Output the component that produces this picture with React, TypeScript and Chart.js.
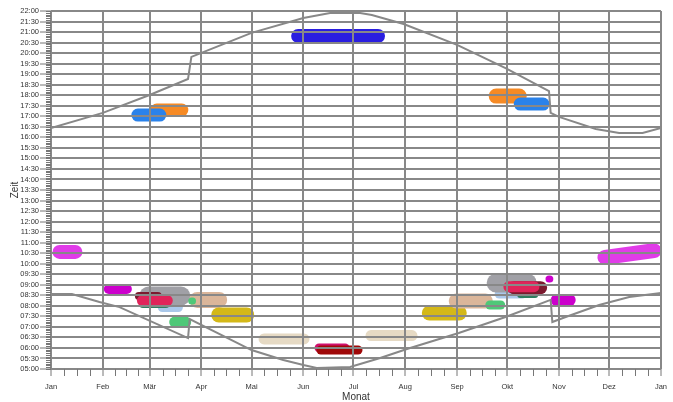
import React, { useEffect, useRef } from 'react';
import { Chart, registerables } from 'chart.js';

Chart.register(...registerables);

// ---- axis categories / tick labels ----
const monthLabels = ['Jan', 'Feb', 'Mär', 'Apr', 'Mai', 'Jun', 'Jul', 'Aug', 'Sep', 'Okt', 'Nov', 'Dez', 'Jan'];
const monthStartDays = [0, 31, 59, 90, 120, 151, 181, 212, 243, 273, 304, 334, 365];
const timeTickLabels = [
  '05:00', '05:30', '06:00', '06:30', '07:00', '07:30', '08:00', '08:30', '09:00', '09:30',
  '10:00', '10:30', '11:00', '11:30', '12:00', '12:30', '13:00', '13:30', '14:00', '14:30',
  '15:00', '15:30', '16:00', '16:30', '17:00', '17:30', '18:00', '18:30', '19:00', '19:30',
  '20:00', '20:30', '21:00', '21:30', '22:00',
];

// ---- sunset / sunrise (day of year, hour of day) ----
const sunsetDays = [0, 31, 59, 82, 84, 90, 120, 151, 167, 185, 192, 211, 243, 272, 298, 299, 304, 326, 340, 354, 365];
const sunsetHours = [16.44, 17.16, 18.01, 18.77, 19.82, 20.01, 20.96, 21.67, 21.9, 21.9, 21.81, 21.38, 20.39, 19.29, 18.2, 17.16, 16.97, 16.4, 16.21, 16.21, 16.44];
const sunriseDays = [0, 12.5, 29, 41, 82, 83, 120, 139, 151, 159, 179, 197, 213, 244, 272, 299, 300, 308, 328, 346, 365];
const sunriseHours = [8.56, 8.56, 8.18, 7.94, 6.47, 7.37, 5.9, 5.43, 5.19, 5.05, 5.1, 5.52, 5.95, 6.71, 7.47, 8.28, 7.23, 7.47, 8.04, 8.42, 8.61];

// ---- observation clusters (start day, end day, start hour, end hour) ----
const blobStartDay = [5.1, 34.6, 66.6, 55, 58.5, 52.6, 54.7, 87.5, 84.2, 74, 100.4, 127.5, 160.4, 161.5, 191.5, 226.4, 242.5, 262.6, 268.2, 266.4, 280.8, 277, 274, 298, 302.6, 331.5, 63.3, 52, 147.9, 266.4, 280.8];
const blobEndDay = [14.6, 45.4, 76.2, 68.7, 77.7, 63.9, 69.6, 100.6, 84.7, 80.6, 117.1, 151.4, 176, 183.7, 216, 244.3, 259.9, 269.1, 282, 285, 289.7, 293, 289, 298.5, 310.4, 360.8, 78.3, 65.1, 195.7, 280.2, 294.5];
const blobStartHour = [10.56, 8.8, 7.92, 8.09, 8.47, 8.47, 8.25, 8.28, 8.23, 7.23, 7.57, 6.43, 6.0, 5.9, 6.59, 7.66, 8.23, 8.04, 8.56, 9.08, 8.51, 8.86, 8.91, 9.27, 8.28, 10.3, 17.3, 17.06, 20.81, 17.96, 17.58];
const blobEndHour = [10.56, 8.8, 7.92, 8.09, 8.47, 8.47, 8.25, 8.28, 8.23, 7.23, 7.57, 6.43, 6.0, 5.9, 6.59, 7.66, 8.23, 8.04, 8.56, 9.08, 8.51, 8.86, 8.91, 9.27, 8.28, 10.62, 17.3, 17.06, 20.81, 17.96, 17.58];

// styles for the clusters
const blobColors = ['#e03ce8', '#cc00cc', '#aac8ea', '#2e7d5e', '#a0a0a6', '#7b1a2e', '#e0245a', '#dbb69a', '#4fc878', '#4fc878', '#d4b818', '#e6dac4', '#d0106e', '#a00808', '#e6dac4', '#d4b818', '#dbb69a', '#4fc878', '#aac8ea', '#a0a0a6', '#2e7d5e', '#7b1a2e', '#e0245a', '#cc00cc', '#cc00cc', '#e03ce8', '#f68a24', '#2a82ea', '#2a1ee0', '#f68a24', '#2a82ea'];
const blobWidths = [14, 10, 9, 8, 19, 8, 11, 16, 7, 11, 15, 11, 9, 9, 11, 15, 15, 9, 9, 19, 6, 13, 11, 7, 12, 15, 13, 13, 14, 15, 13];

const parseTime = (s: string) => {
  const [h, m] = s.split(':').map(Number);
  return h + m / 60;
};
const timeTickValues = timeTickLabels.map(parseTime);

const minorTicks = {
  id: 'minorTicks',
  afterDraw(chart: any) {
    const { ctx, chartArea, scales } = chart;
    const x = scales.x;
    const y = scales.y;
    ctx.save();
    ctx.strokeStyle = '#777';
    ctx.lineWidth = 1;
    ctx.beginPath();
    for (let m = 5 * 12; m <= 22 * 12; m++) {
      const py = Math.round(y.getPixelForValue(m / 12)) + 0.5;
      ctx.moveTo(chartArea.left - 5, py);
      ctx.lineTo(chartArea.left, py);
    }
    for (let i = 0; i < 12; i++) {
      for (let q = 1; q < 4; q++) {
        const d = monthStartDays[i] + ((monthStartDays[i + 1] - monthStartDays[i]) * q) / 4;
        const px = Math.round(x.getPixelForValue(d)) + 0.5;
        ctx.moveTo(px, chartArea.bottom);
        ctx.lineTo(px, chartArea.bottom + 7);
      }
    }
    ctx.stroke();
    ctx.restore();
  },
};

export default function App() {
  const ref = useRef<HTMLCanvasElement | null>(null);

  useEffect(() => {
    if (!ref.current) return;
    Chart.defaults.font.family = '"Liberation Sans", Arial, sans-serif';

    const n = blobStartDay.length;
    const blobSets = blobStartDay.map((s, i) => ({
      type: 'line' as const,
      data: [
        { x: s, y: blobStartHour[i] },
        { x: blobEndDay[i], y: blobEndHour[i] },
      ],
      borderColor: blobColors[i],
      borderWidth: blobWidths[i],
      borderCapStyle: 'round' as const,
      borderJoinStyle: 'round' as const,
      pointRadius: 0,
      fill: false,
      order: n - i + 2,
    }));

    const sunset = {
      type: 'line' as const,
      data: sunsetDays.map((d, i) => ({ x: d, y: sunsetHours[i] })),
      borderColor: '#888',
      borderWidth: 2,
      pointRadius: 0,
      fill: false,
      order: 0,
    };
    const sunrise = {
      type: 'line' as const,
      data: sunriseDays.map((d, i) => ({ x: d, y: sunriseHours[i] })),
      borderColor: '#888',
      borderWidth: 2,
      pointRadius: 0,
      fill: false,
      order: 1,
    };

    const chart = new Chart(ref.current, {
      type: 'line',
      data: { datasets: [...blobSets, sunset, sunrise] as any },
      options: {
        responsive: false,
        animation: false,
        events: [],
        layout: { padding: { left: 0, right: 11, top: 11, bottom: 0 } },
        plugins: { legend: { display: false }, tooltip: { enabled: false } },
        scales: {
          x: {
            type: 'linear',
            min: 0,
            max: 365,
            afterBuildTicks: (s: any) => {
              s.ticks = monthStartDays.map((v) => ({ value: v }));
            },
            afterFit: (s: any) => {
              s.height = 33;
            },
            ticks: {
              autoSkip: false,
              maxRotation: 0,
              font: { size: 7.5 },
              color: '#333',
              padding: 6,
              callback: (_v: any, i: number) => monthLabels[i],
            },
            grid: { color: '#888', lineWidth: 2, z: 1, tickLength: 7, tickColor: '#777', tickWidth: 1 },
            border: { display: false },
            title: { display: true, text: 'Monat', font: { size: 10 }, color: '#333', padding: { top: 0, bottom: -1 } },
          },
          y: {
            type: 'linear',
            min: 5,
            max: 22,
            afterBuildTicks: (s: any) => {
              s.ticks = timeTickValues.map((v) => ({ value: v }));
            },
            afterFit: (s: any) => {
              s.width = 51;
            },
            ticks: {
              autoSkip: false,
              font: { size: 7.5 },
              color: '#333',
              padding: 1,
              callback: (_v: any, i: number) => timeTickLabels[i],
            },
            grid: { color: '#888', lineWidth: 2, z: 1, tickLength: 11, tickColor: '#777', tickWidth: 1 },
            border: { display: false },
            title: { display: true, text: 'Zeit', font: { size: 10 }, color: '#333', padding: { top: 9, bottom: 0 } },
          },
        },
      },
      plugins: [minorTicks],
    });
    return () => chart.destroy();
  }, []);

  return (
    <div style={{ position: 'fixed', left: 0, top: 0, width: 673, height: 402, background: '#fff' }}>
      <canvas ref={ref} width={673} height={402} />
    </div>
  );
}
